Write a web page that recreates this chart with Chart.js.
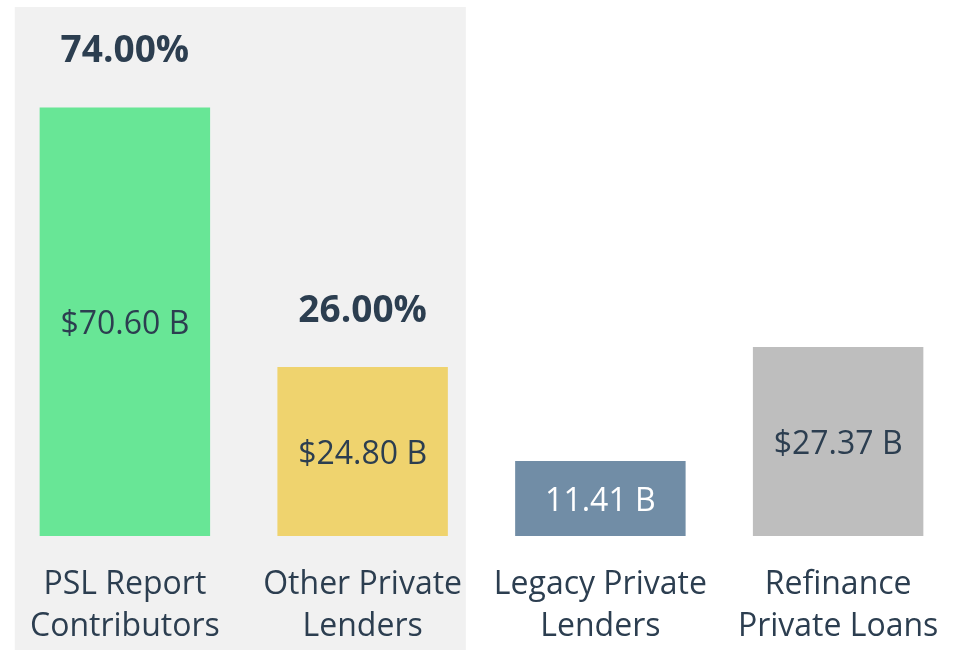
<!DOCTYPE html>
<html>
<head>
<meta charset="utf-8">
<script src="https://cdn.jsdelivr.net/npm/chart.js@4"></script>
<style>
  html, body { margin: 0; padding: 0; background: #fff; }
  #wrap { width: 957px; height: 651px; }
</style>
</head>
<body>
<div id="wrap"><canvas id="lenderChart"></canvas></div>
<script>
// categories (two-line labels)
const categories = [
  ['PSL Report', 'Contributors'],
  ['Other Private', 'Lenders'],
  ['Legacy Private', 'Lenders'],
  ['Refinance', 'Private Loans']
];
// bar lengths as drawn in the picture ($ billions, estimated)
const barValues = [70.6, 27.85, 12.36, 31.14];
// text printed inside the bars
const valueLabels = ['$70.60 B', '$24.80 B', '11.41 B', '$27.37 B'];
// share labels above the first two bars
const shareLabels = ['74.00%', '26.00%', '', ''];
const barColors = ['#68e696', '#efd36e', '#718da6', '#bebebe'];
const valueLabelColors = ['#2c3e50', '#2c3e50', '#ffffff', '#2c3e50'];

const textColor = '#2c3e50';

// grey panel behind the first two categories
const panelPlugin = {
  id: 'panel',
  beforeDraw(chart) {
    const { ctx } = chart;
    const x = chart.scales.x;
    const x0 = x.getPixelForValue(0);
    const x1 = x.getPixelForValue(1);
    const step = x1 - x0;
    ctx.save();
    ctx.fillStyle = '#f1f1f1';
    ctx.fillRect(x0 - step * 0.463, 7, (x1 + step * 0.434) - (x0 - step * 0.463), 643);
    ctx.restore();
  }
};

const labelPlugin = {
  id: 'barLabels',
  afterDatasetsDraw(chart) {
    const { ctx } = chart;
    const meta = chart.getDatasetMeta(0);
    ctx.save();
    ctx.textAlign = 'center';
    ctx.textBaseline = 'middle';
    meta.data.forEach((bar, i) => {
      const mid = (bar.y + bar.base) / 2;
      ctx.font = '32px "Open Sans"';
      ctx.fillStyle = valueLabelColors[i];
      ctx.fillText(valueLabels[i], bar.x, mid + 3);
      if (shareLabels[i]) {
        ctx.font = 'bold 37px "Open Sans"';
        ctx.fillStyle = textColor;
        ctx.fillText(shareLabels[i], bar.x, bar.y - 56);
      }
    });
    ctx.restore();
  }
};

new Chart(document.getElementById('lenderChart'), {
  type: 'bar',
  data: {
    labels: categories,
    datasets: [{
      data: barValues,
      backgroundColor: barColors,
      barPercentage: 0.717,
      categoryPercentage: 1
    }]
  },
  options: {
    responsive: true,
    maintainAspectRatio: false,
    animation: false,
    layout: { padding: { top: 8, left: 6, right: 0, bottom: -25 } },
    plugins: { legend: { display: false }, tooltip: { enabled: false } },
    scales: {
      x: {
        grid: { display: false, drawTicks: false },
        border: { display: false },
        afterFit(scale) {
          // labels fit inside their columns, no extra side room needed
          scale.paddingLeft = 0;
          scale.paddingRight = 0;
        },
        ticks: {
          color: textColor,
          font: { family: 'Open Sans', size: 32, lineHeight: '42px' },
          padding: 28,
          autoSkip: false,
          maxRotation: 0
        }
      },
      y: {
        display: false,
        min: 0,
        max: 87
      }
    }
  },
  plugins: [panelPlugin, labelPlugin]
});
</script>
</body>
</html>
